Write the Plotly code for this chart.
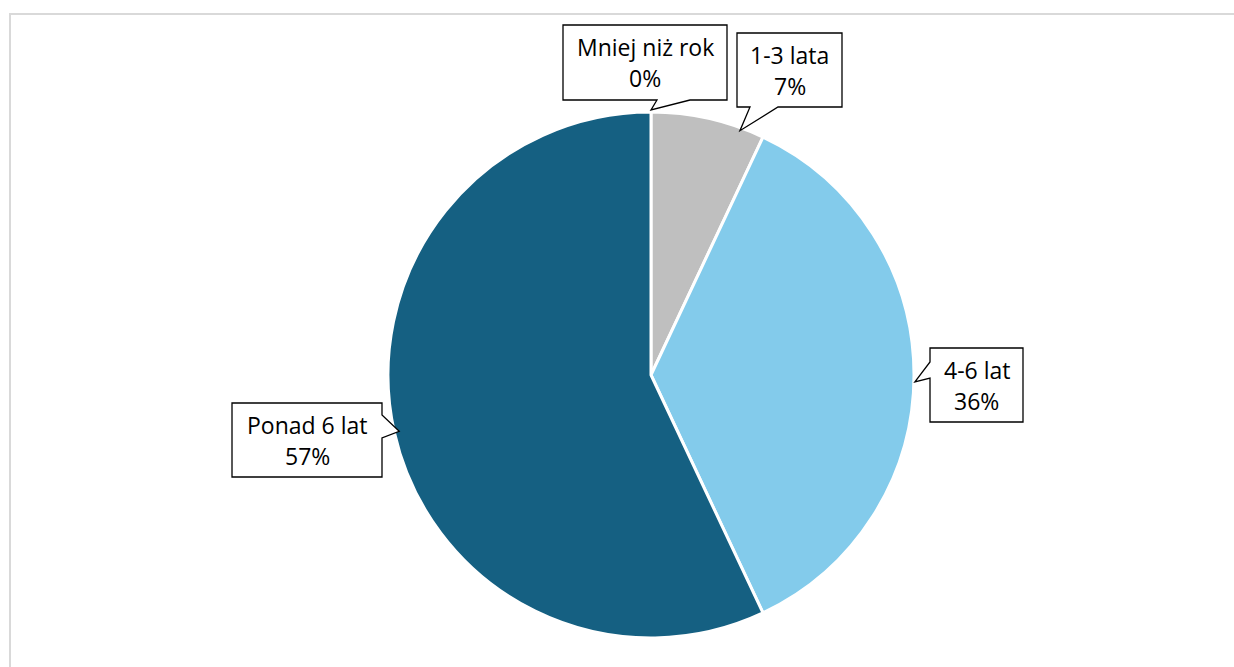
import math
import plotly.graph_objects as go

# Data
categories = ["Mniej niż rok", "1-3 lata", "4-6 lat", "Ponad 6 lat"]
shares = [0, 7, 36, 57]
colors = ["#a6a6a6", "#bfbfbf", "#83cbeb", "#156082"]

W, H = 1234, 667

# Pie geometry in pixels
CX, CY, R = 651, 375, 263

fig = go.Figure(go.Pie(
    labels=categories,
    values=shares,
    sort=False,
    direction="clockwise",
    rotation=0,
    marker=dict(colors=colors, line=dict(color="white", width=3)),
    textinfo="none",
    hoverinfo="label+percent",
    showlegend=False,
    domain=dict(x=[(CX - R) / W, (CX + R) / W],
                y=[1 - (CY + R) / H, 1 - (CY - R) / H]),
))


def px(x):
    return x / W


def py(y):
    return 1 - y / H


# Callout boxes: (left, top, right, bottom), pointer side, base span, tip radius, angle offset
callouts = [
    dict(box=(563, 25, 727, 100), side="bottom", base=(657, 690), r=265, off=0.0),
    dict(box=(737, 33, 842, 107), side="bottom", base=(750, 778), r=260, off=7.4),
    dict(box=(930, 348, 1023, 422), side="left", base=(362, 378), r=264, off=1.5),
    dict(box=(232, 403, 382, 477), side="right", base=(415, 438), r=258, off=0.0),
]

total = sum(shares)
cum = 0.0
shapes = []
annotations = []
for cat, val, c in zip(categories, shares, callouts):
    mid = (cum + val / 2) / total * 360.0
    cum += val
    ang = math.radians(mid + c["off"])
    tx = CX + c["r"] * math.sin(ang)
    ty = CY - c["r"] * math.cos(ang)
    x0, y0, x1, y1 = c["box"]
    a, b = c["base"]
    if c["side"] == "bottom":
        pts = [(x0, y0), (x1, y0), (x1, y1), (b, y1), (tx, ty), (a, y1), (x0, y1)]
    elif c["side"] == "left":
        pts = [(x0, y0), (x1, y0), (x1, y1), (x0, y1), (x0, b), (tx, ty), (x0, a)]
    else:
        pts = [(x0, y0), (x1, y0), (x1, a), (tx, ty), (x1, b), (x1, y1), (x0, y1)]
    path = "M " + " L ".join(f"{px(x):.5f},{py(y):.5f}" for x, y in pts) + " Z"
    shapes.append(dict(type="path", xref="paper", yref="paper", path=path,
                       fillcolor="white", line=dict(color="black", width=1.3),
                       layer="above"))
    cxm = (x0 + x1) / 2
    cym = (y0 + y1) / 2
    for text, dy in ((cat, -15.5), (f"{val}%", 15.5)):
        annotations.append(dict(
            x=px(cxm), y=py(cym + dy), xref="paper", yref="paper",
            text=text, showarrow=False, xanchor="center", yanchor="middle",
            font=dict(family="Open Sans, Liberation Sans, sans-serif", size=23, color="black"),
        ))

# Outer frame
shapes.insert(0, dict(type="rect", xref="paper", yref="paper",
                      x0=px(10), y0=-0.05, x1=1.05, y1=py(14),
                      line=dict(color="#d9d9d9", width=2), layer="below"))

fig.update_layout(
    width=W, height=H,
    margin=dict(l=0, r=0, t=0, b=0),
    paper_bgcolor="white",
    plot_bgcolor="white",
    shapes=shapes,
    annotations=annotations,
)

fig.write_html("out.html")
